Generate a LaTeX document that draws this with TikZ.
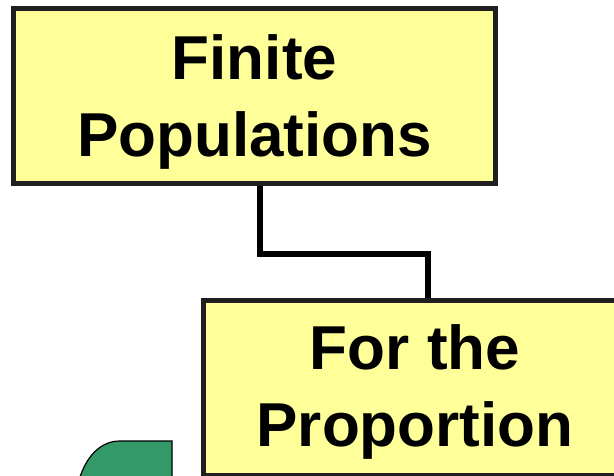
\documentclass[tikz,border=0pt]{standalone}
\usepackage{fontspec}
\setmainfont{Liberation Sans}
\usetikzlibrary{positioning,shadows}
\definecolor{boxyellow}{HTML}{FFFF99}
\definecolor{boxedge}{HTML}{1F1F1F}
\definecolor{leafgreen}{HTML}{339966}
\tikzset{
  topicbox/.style={draw=boxedge, line width=5pt, fill=boxyellow, inner sep=0pt,
    align=center, font=\bfseries\fontsize{62}{77}\selectfont,
    drop shadow={shadow xshift=1.5pt, shadow yshift=-1.5pt, fill=black!45, opacity=1}},
  link/.style={line width=6pt, draw=black},
  leaf/.style={fill=leafgreen, draw=black, line width=1.2pt}
}

\begin{document}
\begin{tikzpicture}[x=1pt,y=1pt]
    \useasboundingbox (0,0) rectangle (614,475);

    % the two topic boxes
    \node[topicbox, minimum width=482pt, minimum height=175pt] (finite) at (254.5,379) {\rule{0pt}{56pt}Finite\\Populations};
    \node[topicbox, minimum width=423pt, minimum height=175pt] (proportion) at (415,87) {\rule{0pt}{52pt}For the\\Proportion};

    % elbow from the upper box to the lower one
    \draw[link] ([xshift=5.5pt]finite.south) -- ++(0,-68) -| ([xshift=13pt]proportion.north);

    % green shape at the lower left
    \draw[leaf] (172,-5) -- (172,34) -- (120,34) .. controls (100,34) and (86,18) .. (79,-5) -- cycle;
\end{tikzpicture}
\end{document}
